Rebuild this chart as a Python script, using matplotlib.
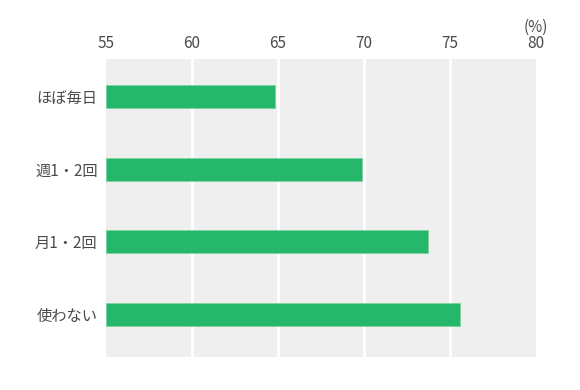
import matplotlib.pyplot as plt

plt.rcParams['font.family'] = ['Noto Sans CJK JP', 'DejaVu Sans']

# data
categories = ['ほぼ毎日', '週1・2回', '月1・2回', '使わない']
values = [64.8, 69.9, 73.7, 75.6]
ticks = [55, 60, 65, 70, 75, 80]

fig = plt.figure(figsize=(5.8, 3.9), dpi=100)
ax = fig.add_axes([106 / 580, 1 - 357 / 390, 430 / 580, 298 / 390])
ax.set_facecolor('#efefef')

ypos = list(range(len(categories)))
ax.barh(ypos, [v - ticks[0] for v in values], left=ticks[0], height=0.32,
        color='#25b76b', edgecolor='#7fd3a0', linewidth=0.6, zorder=3)

ax.set_xlim(ticks[0], ticks[-1])
ax.set_ylim(3.59, -0.52)
ax.set_xticks(ticks)
ax.set_yticks(ypos)
ax.set_yticklabels(categories)

for t in ticks[1:-1]:
    ax.axvline(t, color='white', linewidth=2, zorder=2)

ax.xaxis.tick_top()
ax.tick_params(axis='x', length=0, pad=5, labelsize=11, labelcolor='#4a4a4a')
ax.tick_params(axis='y', length=0, pad=6, labelsize=11, labelcolor='#4a4a4a')
for s in ax.spines.values():
    s.set_visible(False)

fig.text(536 / 580, 1 - 27 / 390, '(%)', ha='center', va='center',
         fontsize=11, color='#4a4a4a')

fig.savefig('out.png', dpi=100)
